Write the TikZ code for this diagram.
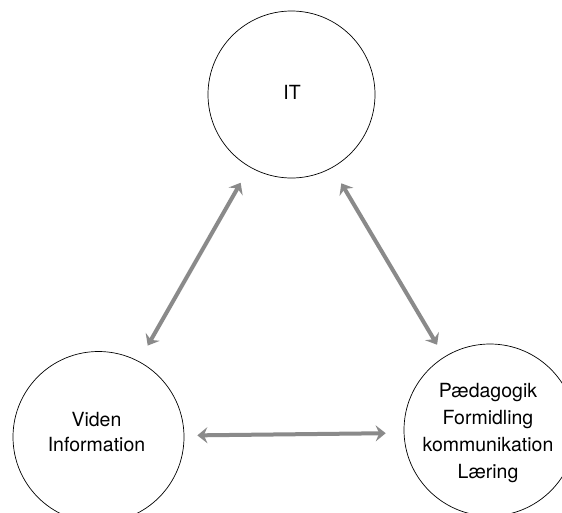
\documentclass[tikz,border=0pt]{standalone}
\usepackage{fontspec}
\setmainfont{TeX Gyre Heros}
\usetikzlibrary{arrows.meta}
\definecolor{arrgray}{HTML}{8A8A8A}
\begin{document}
\begin{tikzpicture}[x=1pt,y=-1pt,
  bubble/.style={draw=black,line width=0.7pt,circle,inner sep=0pt},
  lbl/.style={font=\fontsize{19.5}{24.5}\selectfont,align=center,inner sep=0pt},
  lblr/.style={font=\fontsize{19.5}{26.7}\selectfont,align=center,inner sep=0pt},
  arr/.style={draw=arrgray,line width=4pt,
    {Stealth[length=10pt,width=16pt,inset=3.5pt]}-{Stealth[length=10pt,width=16pt,inset=3.5pt]}}]
\useasboundingbox[fill=white] (0,0) rectangle (562,512);
\node[bubble,minimum size=167pt] (it) at (291.5,94.5) {};
\node[bubble,minimum size=171pt] (left) at (98.5,437) {};
\node[bubble,minimum size=172pt] (right) at (490,430) {};
\node[lbl,anchor=base] (itt) at (292,99) {IT};
\node[lbl] (leftt) at (96.5,432) {Viden\\Information};
\node[lblr] (rightt) at (488,433) {Pædagogik\\Formidling\\kommunikation\\Læring};
\draw[arr,shorten <=18pt,shorten >=18pt] (left.62.7) -- (it.240.7);
\draw[arr,shorten <=18pt,shorten >=14pt] (it.299.3) -- (right.122.1);
\draw[arr,shorten <=13pt,shorten >=18pt] (left.1.6) -- (right.182.4);
\end{tikzpicture}
\end{document}
